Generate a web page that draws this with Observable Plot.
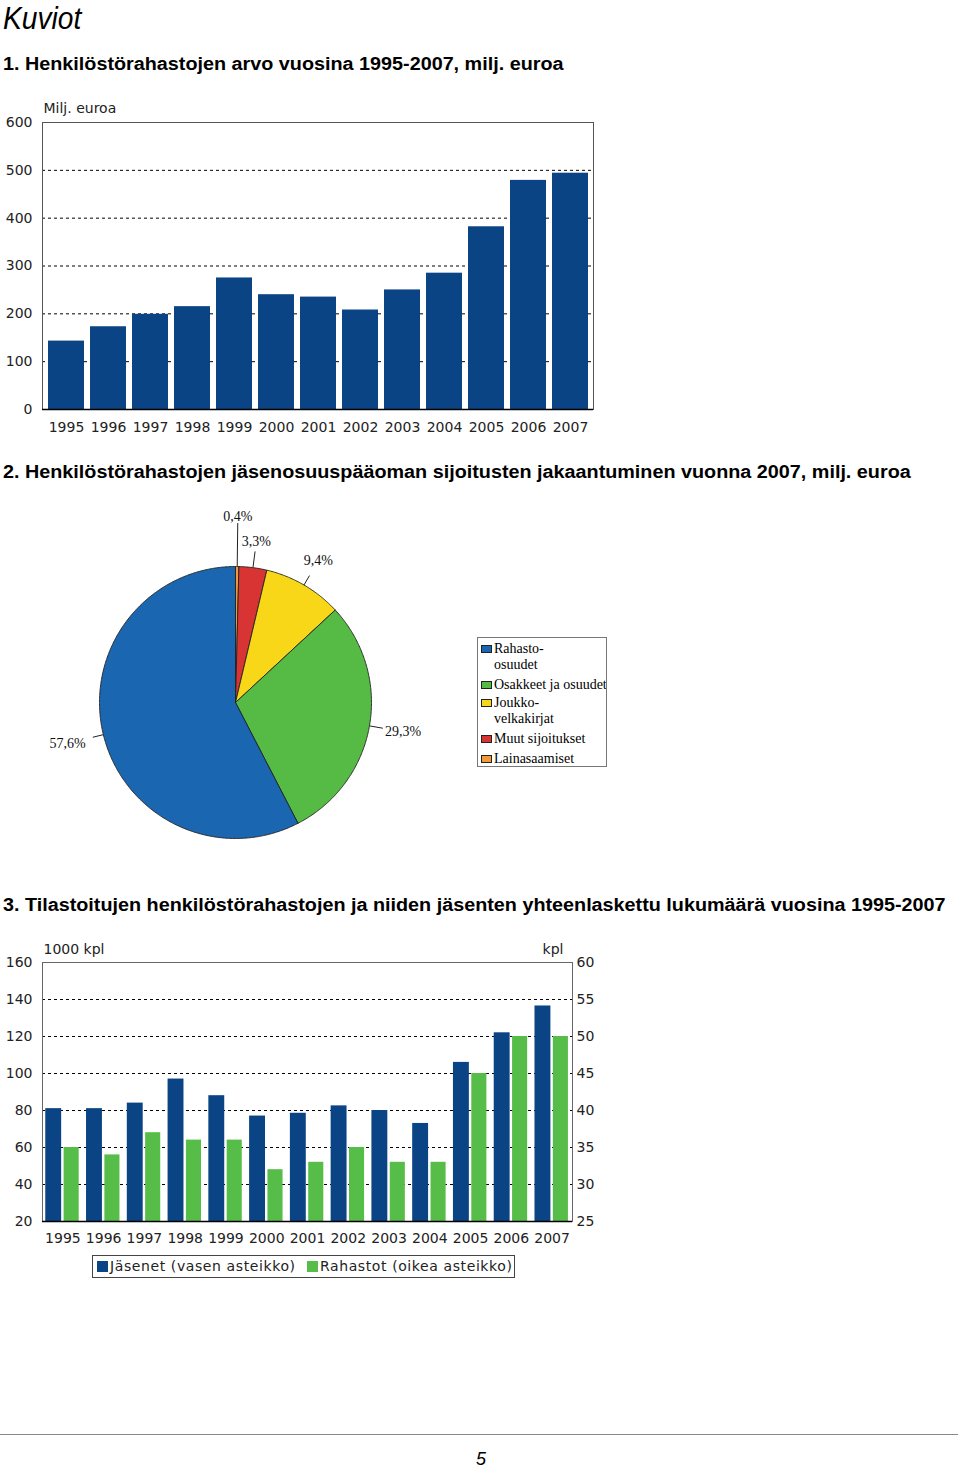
<!DOCTYPE html>
<html><head><meta charset="utf-8">
<script src="https://cdn.jsdelivr.net/npm/d3@7"></script>
<script src="https://cdn.jsdelivr.net/npm/@observablehq/plot@0.6"></script>
<style>
html,body{margin:0;padding:0;background:#fff}
body{width:960px;height:1467px;position:relative;overflow:hidden;font-family:"Liberation Sans",Arial,sans-serif;color:#000}
.abs{position:absolute}
.head{left:3px;font-weight:bold;font-size:17.5px;line-height:18px;white-space:nowrap;transform:scaleX(1.13);transform-origin:0 50%}
#kuviot{left:3px;top:0;font-style:italic;font-size:32px;line-height:36px;font-family:"Liberation Sans",sans-serif;transform:scaleX(0.88);transform-origin:0 50%}
#pieLegend{left:477px;top:637px;width:128px;height:128px;border:1px solid #777;overflow:hidden;font-family:"Liberation Serif","Times New Roman",serif;font-size:14px;white-space:pre;color:#000}
#pieLegend .it{position:absolute;left:3px;line-height:16px}
#pieLegend .sw{position:absolute;left:0;top:4px;width:11px;height:8px;border:1px solid #222;box-sizing:border-box}
#pieLegend .tx{position:absolute;left:13px;top:0}
#barLegend{left:92px;top:1255px;width:421px;height:21px;border:1px solid #444;font-family:"DejaVu Sans",sans-serif;font-size:14px;line-height:21px;letter-spacing:0.6px;color:#222;white-space:nowrap}
#barLegend .sw{display:inline-block;width:11px;height:11px;vertical-align:-1px;margin-right:2px}
#rule{left:0;top:1434px;width:958px;height:1px;background:#888}
#page{left:476px;top:1448px;font-style:italic;font-size:18px;line-height:22px;font-family:"Liberation Sans Narrow","Liberation Sans",sans-serif}
</style></head>
<body>
<div id="kuviot" class="abs">Kuviot</div>
<div class="abs head" style="top:55px">1. Henkilöstörahastojen arvo vuosina 1995-2007, milj. euroa</div>
<div class="abs head" style="top:463px">2. Henkilöstörahastojen jäsenosuuspääoman sijoitusten jakaantuminen vuonna 2007, milj. euroa</div>
<div class="abs head" style="top:896px">3. Tilastoitujen henkilöstörahastojen ja niiden jäsenten yhteenlaskettu lukumäärä vuosina 1995-2007</div>
<div id="c1" class="abs" style="left:0;top:95px"></div>
<div id="c2" class="abs" style="left:40px;top:500px"></div>
<div id="pieLegend" class="abs"></div>
<div id="c3" class="abs" style="left:0;top:935px"></div>
<div id="barLegend" class="abs"></div>
<div id="rule" class="abs"></div>
<div id="page" class="abs">5</div>
<script>
// ---------- data ----------
const years = [1995,1996,1997,1998,1999,2000,2001,2002,2003,2004,2005,2006,2007];
const arvo = [143,173,199,215,275,240,235,208,250,285,382,479,494];
const arvoTicks = [0,100,200,300,400,500,600];

const osuusNimet = ["Rahasto-osuudet","Osakkeet ja osuudet","Joukkovelkakirjat","Muut sijoitukset","Lainasaamiset"];
const osuusLegend = ["Rahasto-\nosuudet","Osakkeet ja osuudet","Joukko-\nvelkakirjat","Muut sijoitukset","Lainasaamiset"];
const osuusPct = [57.6,29.3,9.4,3.3,0.4];

const jasenet = [81,81,84,97,88,77,78.5,82.5,80,73,106,122,136.5];
const rahastot = [35,34,37,36,36,32,33,35,33,33,45,50,50];
const jasenetTicks = [20,40,60,80,100,120,140,160];
const rahastotTicks = [25,30,35,40,45,50,55,60];
const sarjaNimet = ["Jäsenet (vasen asteikko)","Rahastot (oikea asteikko)"];

// ---------- styles ----------
const darkBlue = "#0a4484";
const barGreen = "#56bd48";
const pieColors = ["#1a66b0","#55bb44","#f7d717","#d83434","#f09a3a"];
const gridStyle = {stroke:"#000", strokeDasharray:"3,3", strokeWidth:1};
const axisFont = {fontFamily:"DejaVu Sans, sans-serif", fontSize:"14px", color:"#222", background:"transparent", overflow:"visible"};

// ---------- chart 1 ----------
const d1 = years.map((y,i)=>({year:y, value:arvo[i]}));
const c1 = Plot.plot({
  width:600, height:345, marginLeft:42, marginRight:7, marginTop:27, marginBottom:31,
  style:axisFont,
  x:{type:"band", domain:years, paddingInner:0.15, paddingOuter:0.1, tickSize:0, tickPadding:13, tickFormat:d=>String(d), label:null},
  y:{domain:[0,600], ticks:arvoTicks, tickSize:0, tickPadding:10, label:null},
  marks:[
    Plot.ruleY(arvoTicks.filter(t=>t>0 && t<600), gridStyle),
    Plot.barY(d1, {x:"year", y:"value", fill:darkBlue}),
    Plot.frame({stroke:"#555"}),
    Plot.ruleY([0], {stroke:"#000", strokeWidth:1.5}),
    Plot.text(["Milj. euroa"], {frameAnchor:"top-left", text:d=>d, lineAnchor:"middle", dy:-14, dx:1, fill:"#222"})
  ]
});
document.getElementById("c1").appendChild(c1);

// ---------- chart 2 (pie) ----------
const pieOrder = [4,3,2,1,0]; // clockwise from 12 o'clock
const labelR = [1.27,1.25,1.21,1.19,1.37];
const leaderR = [1.08,1.1,1.08,1.12,1.32];
let acc = 0;
const slices = pieOrder.map(i=>{
  const a0 = acc/100*2*Math.PI; acc += osuusPct[i]; const a1 = acc/100*2*Math.PI;
  return {i, name:osuusNimet[i], a0, a1, mid:(a0+a1)/2, pct:osuusPct[i]};
});
const piePts = slices.flatMap(s=>{
  const n = Math.max(2, Math.ceil((s.a1-s.a0)/0.01));
  const pts = [{name:s.name, x:0, y:0}];
  for (let k=0;k<=n;k++){const a = s.a0+(s.a1-s.a0)*k/n; pts.push({name:s.name, x:Math.sin(a), y:Math.cos(a)});}
  pts.push({name:s.name, x:0, y:0});
  return pts;
});
const fmtPct = v => v.toFixed(1).replace(".", ",") + "%";
const R = 136, W2 = 580, H2 = 345, cx = 195, cy = 202;
const c2 = Plot.plot({
  width:W2, height:H2, margin:0,
  style:{fontFamily:"Liberation Serif, serif", fontSize:"14px", background:"transparent", overflow:"visible"},
  x:{domain:[-cx/R, (W2-cx)/R], axis:null},
  y:{domain:[-(H2-cy)/R, cy/R], axis:null},
  color:{domain:osuusNimet, range:pieColors},
  marks:[
    Plot.line(piePts, {x:"x", y:"y", z:"name", fill:"name", stroke:"#222", strokeWidth:0.9, strokeLinejoin:"round"}),
    Plot.link(slices, {x1:s=>Math.sin(s.mid)*1.0, y1:s=>Math.cos(s.mid)*1.0, x2:s=>Math.sin(s.mid)*leaderR[s.i], y2:s=>Math.cos(s.mid)*leaderR[s.i], stroke:"#222", strokeWidth:1}),
    Plot.text(slices, {x:s=>Math.sin(s.mid)*labelR[s.i], y:s=>Math.cos(s.mid)*labelR[s.i], text:s=>fmtPct(s.pct), fill:"#111"})
  ]
});
document.getElementById("c2").appendChild(c2);

// pie legend
const pl = document.getElementById("pieLegend");
const legTops = [3,39,57,93,113];
osuusLegend.forEach((t,i)=>{
  const it = document.createElement("div"); it.className="it"; it.style.top = legTops[i]+"px";
  const sw = document.createElement("div"); sw.className="sw"; sw.style.background = pieColors[i];
  const tx = document.createElement("div"); tx.className="tx"; tx.textContent = t;
  it.appendChild(sw); it.appendChild(tx); pl.appendChild(it);
});

// ---------- chart 3 ----------
const toLeft = v => 20 + (v-25)*4;
const d3data = years.map((y,i)=>({year:y, j:jasenet[i], r:rahastot[i]}));
const c3 = Plot.plot({
  width:600, height:320, marginLeft:42, marginRight:28, marginTop:27, marginBottom:34,
  style:axisFont,
  x:{domain:[1994.5,2007.5], ticks:years, tickFormat:d=>String(d), tickSize:0, tickPadding:12, label:null},
  y:{domain:[20,160], ticks:jasenetTicks, tickSize:0, tickPadding:10, label:null},
  marks:[
    Plot.ruleY(jasenetTicks.filter(t=>t>20 && t<160), gridStyle),
    Plot.rect(d3data, {x1:d=>d.year-0.42, x2:d=>d.year-0.03, y1:20, y2:"j", fill:darkBlue}),
    Plot.rect(d3data, {x1:d=>d.year+0.03, x2:d=>d.year+0.40, y1:20, y2:d=>toLeft(d.r), fill:barGreen}),
    Plot.frame({stroke:"#666"}),
    Plot.ruleY([20], {stroke:"#000", strokeWidth:1.5}),
    Plot.text(rahastotTicks, {frameAnchor:"right", y:d=>toLeft(d), text:d=>String(d), textAnchor:"start", dx:4, fill:"#222"}),
    Plot.text(["1000 kpl"], {frameAnchor:"top-left", text:d=>d, lineAnchor:"middle", dy:-13, dx:1, fill:"#222"}),
    Plot.text(["kpl"], {frameAnchor:"top-right", text:d=>d, lineAnchor:"middle", dy:-13, dx:-9, fill:"#222"})
  ]
});
document.getElementById("c3").appendChild(c3);

// bar legend
const bl = document.getElementById("barLegend");
const legColors = [darkBlue, barGreen];
const legLeft = [4, 214];
sarjaNimet.forEach((t,i)=>{
  const s = document.createElement("span");
  s.style.position="absolute"; s.style.left = legLeft[i]+"px"; s.style.top="0";
  s.innerHTML = `<span class="sw" style="background:${legColors[i]}"></span>`;
  s.appendChild(document.createTextNode(t));
  bl.appendChild(s);
});
</script>
</body></html>
